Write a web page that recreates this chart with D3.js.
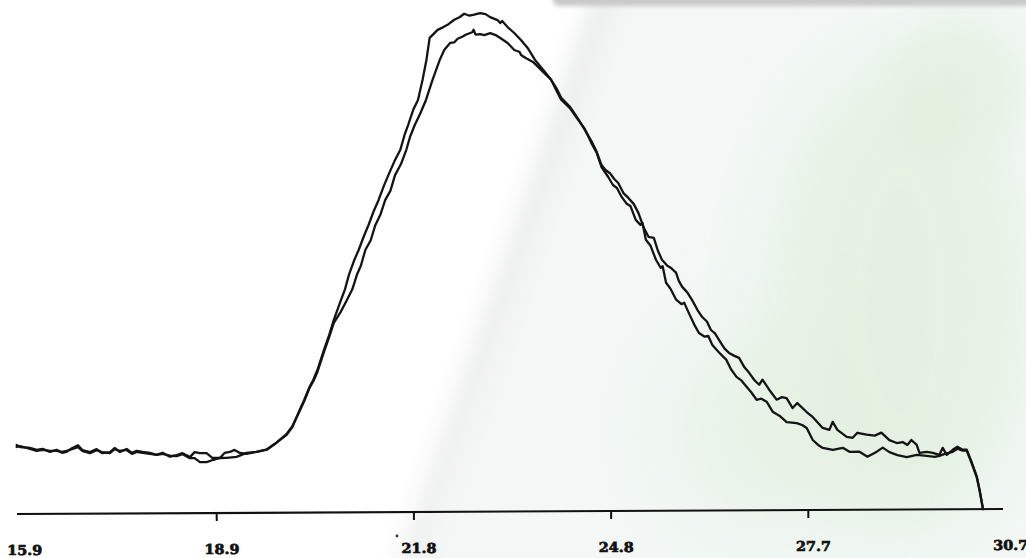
<!DOCTYPE html>
<html>
<head>
<meta charset="utf-8">
<script src="https://cdn.jsdelivr.net/npm/d3@7"></script>
<style>
  html, body { margin: 0; padding: 0; background: #ffffff; }
  svg { display: block; }
</style>
</head>
<body>
<svg id="chart" width="1026" height="558"></svg>
<script>
// ---- data (retention time, relative intensity) ----
const tickValues = [15.9, 18.86, 21.82, 24.78, 27.74, 30.7];
const tickLabels = ["15.9", "18.9", "21.8", "24.8", "27.7", "30.7"];

const timeA = [15.87,15.92,16.07,16.17,16.26,16.37,16.47,16.55,16.62,16.70,16.79,16.86,16.97,17.07,17.15,17.27,17.34,17.42,17.52,17.60,17.67,17.76,17.87,17.97,18.06,18.17,18.27,18.36,18.47,18.54,18.62,18.72,18.81,18.92,18.99,19.07,19.14,19.22,19.32,19.47,19.62,19.77,19.92,20.01,
  20.12,20.19,20.27,20.33,20.39,20.49,20.57,20.64,
  20.75,20.81,20.87,20.95,21.02,21.10,21.17,21.25,21.32,21.40,21.47,21.56,21.65,21.72,21.77,21.85,21.92,21.99,22.05,22.10,22.16,22.22,22.30,22.37,22.47,22.55,22.62,22.70,22.77,22.86,22.94,23.01,23.12,23.16,23.19,23.27,23.37,23.47,23.57,23.68,23.80,23.92,24.00,24.07,24.20,24.32,24.42,24.52,24.60,24.67,
  24.77,24.84,24.90,24.97,25.04,25.10,25.18,25.25,25.28,25.33,25.40,25.48,25.55,25.58,25.63,25.70,25.78,25.86,25.90,25.97,26.05,26.12,26.20,26.26,26.32,26.42,26.53,26.60,26.68,26.75,26.83,26.90,26.98,27.05,27.13,27.22,27.32,27.43,27.58,27.66,27.73,27.82,27.90,27.97,28.12,28.27,28.37,28.52,28.64,28.78,28.87,28.97,29.09,29.23,29.38,29.53,29.65,29.72,29.80,29.92,29.99,30.07,30.13,30.20,30.28,30.32,30.37];
const valueA = [13.8,13.4,13.2,12.8,13.0,12.4,12.8,12.2,12.4,13.1,13.7,12.7,12.3,12.9,12.1,12.3,13.1,12.3,12.9,12.1,12.5,12.3,12.1,11.7,12.1,11.3,11.6,12.0,11.2,12.2,12.0,12.0,11.0,11.0,12.0,12.2,12.6,12.0,11.8,12.2,12.6,14.0,15.5,17.1,
  20.5,22.5,25.1,26.6,28.5,32.5,35.5,38.5,
  42.5,44.6,47.5,50.4,52.5,55.3,57.5,60.3,62.4,65.2,67.4,70.1,72.4,75.6,77.4,80.5,82.4,86.4,90.4,94.8,95.6,96.4,96.9,97.4,98.4,98.9,99.6,99.2,99.4,99.7,99.5,98.9,98.3,97.7,98.1,96.9,95.7,94.3,92.7,90.3,88.3,86.3,84.1,82.3,80.6,78.3,76.5,73.6,71.6,68.8,
  66.8,65.2,64.6,62.8,61.5,61.0,58.2,57.2,57.6,54.2,53.0,50.2,48.6,48.9,45.6,44.3,42.2,41.3,41.6,39.5,37.2,35.5,34.8,34.9,33.1,31.6,30.1,28.2,26.7,26.0,24.7,23.6,22.1,22.3,21.7,19.7,18.9,17.6,17.4,17.0,16.4,14.0,13.0,12.4,12.0,12.4,11.6,11.6,10.6,11.6,12.4,11.5,10.9,10.5,10.9,10.7,10.5,10.7,11.1,11.5,12.1,11.7,11.7,9.3,6.3,3.7,0];

const timeB = [15.87,15.92,16.07,16.17,16.26,16.37,16.47,16.55,16.62,16.70,16.79,16.86,16.97,17.07,17.15,17.27,17.34,17.42,17.52,17.60,17.67,17.76,17.87,17.97,18.06,18.17,18.27,18.36,18.47,18.54,18.62,18.72,18.81,18.92,19.02,19.17,19.32,19.47,19.62,19.77,19.92,20.01,
  20.12,20.19,20.27,20.33,20.39,20.49,20.57,20.64,
  20.74,20.84,20.92,20.99,21.05,21.12,21.20,21.27,21.35,21.42,21.50,21.57,21.66,21.74,21.80,21.87,21.95,22.04,22.14,22.25,22.32,22.41,22.47,22.52,22.59,22.64,22.74,22.76,22.79,22.86,22.92,23.01,23.09,23.16,23.27,23.37,23.45,23.47,23.54,23.65,23.80,23.92,24.00,24.07,24.20,24.32,24.42,24.52,24.60,24.67,
  24.73,24.80,24.86,24.92,25.00,25.07,25.15,25.22,25.30,25.37,25.45,25.51,25.57,25.65,25.70,25.78,25.82,25.87,25.95,26.02,26.10,26.17,26.24,26.30,26.36,26.42,26.50,26.57,26.65,26.72,26.80,26.87,26.95,27.02,27.07,27.17,27.28,27.36,27.43,27.52,27.59,27.73,27.82,27.97,28.07,28.12,28.19,28.33,28.42,28.49,28.63,28.75,28.85,28.97,29.08,29.17,29.24,29.30,29.38,29.42,29.53,29.62,29.72,29.77,29.83,29.92,29.99,30.07,30.13,30.20,30.28,30.32,30.37];
const valueB = [13.4,13.6,13.0,12.6,12.8,12.6,12.6,12.4,12.6,12.9,13.3,12.5,12.1,12.7,12.3,12.1,12.9,12.5,12.7,11.9,12.3,12.1,11.9,11.7,11.9,11.5,11.4,11.8,11.0,11.0,10.2,10.2,10.6,11.0,11.0,11.2,12.0,12.2,12.6,14.0,15.7,17.3,
  20.3,22.3,24.9,26.3,28.1,32.1,35.1,37.9,
  40.0,42.5,44.6,47.5,49.3,52.5,54.4,57.4,59.6,62.4,64.3,67.4,69.6,72.4,75.1,77.4,79.6,82.4,86.4,90.4,92.4,93.8,93.9,94.6,95.0,95.4,95.9,96.4,95.4,95.5,95.3,95.7,95.3,94.7,93.7,92.3,91.9,91.3,90.7,89.9,87.9,86.3,84.6,82.7,80.9,78.5,76.3,74.0,71.8,69.2,
  68.2,67.5,66.4,65.6,63.5,62.6,61.4,59.6,56.6,54.8,54.6,52.0,50.2,49.0,48.6,47.6,46.0,44.8,43.6,42.1,40.1,38.7,37.8,36.1,35.4,34.1,32.4,31.5,30.9,30.5,28.6,27.5,26.0,25.1,26.1,24.1,22.1,22.6,22.4,20.4,21.4,19.6,18.6,16.4,16.0,17.6,16.0,14.6,14.4,15.4,15.0,14.8,15.4,13.9,13.3,13.5,12.9,13.9,12.9,11.3,11.5,11.3,10.9,12.3,10.9,11.9,12.5,11.9,11.9,9.5,6.5,3.9,0];

const seriesA = timeA.map((t, i) => ({ t, v: valueA[i] }));
const seriesB = timeB.map((t, i) => ({ t, v: valueB[i] }));

// ---- drawing ----
const W = 1026, H = 558;
const svg = d3.select("#chart");
const defs = svg.append("defs");

const blur = (id, s) => defs.append("filter").attr("id", id)
  .attr("x", "-50%").attr("y", "-50%").attr("width", "200%").attr("height", "200%")
  .append("feGaussianBlur").attr("stdDeviation", s);
blur("b2", 2); blur("b12", 12); blur("b20", 20); blur("b40", 40);

// background: paper with a fold shadow and faint green tint
const bg = svg.append("g");
bg.append("rect").attr("width", W).attr("height", H).attr("fill", "#ffffff");
bg.append("polygon")
  .attr("points", "606,-20 1060,-20 1060,600 406,600")
  .attr("fill", "#f3f8f6").attr("filter", "url(#b12)");
bg.append("ellipse").attr("cx", 900).attr("cy", 300).attr("rx", 130).attr("ry", 240)
  .attr("fill", "#d9ebd2").attr("opacity", 0.55).attr("filter", "url(#b40)");
bg.append("ellipse").attr("cx", 760).attr("cy", 430).attr("rx", 100).attr("ry", 110)
  .attr("fill", "#e0eedb").attr("opacity", 0.5).attr("filter", "url(#b40)");
bg.append("ellipse").attr("cx", 960).attr("cy", 80).attr("rx", 70).attr("ry", 70)
  .attr("fill", "#dcecd6").attr("opacity", 0.45).attr("filter", "url(#b20)");
bg.append("line").attr("x1", 606).attr("y1", -10).attr("x2", 406).attr("y2", 570)
  .attr("stroke", "#c8c8c8").attr("stroke-width", 16).attr("opacity", 0.4)
  .attr("filter", "url(#b12)");
bg.append("rect").attr("x", 553).attr("y", -12).attr("width", 520).attr("height", 18).attr("rx", 6)
  .attr("fill", "#c9c9c9").attr("filter", "url(#b2)");
bg.append("circle").attr("cx", 397).attr("cy", 536).attr("r", 1.4).attr("fill", "#333");

// chart group (scan is tilted slightly)
const g = svg.append("g").attr("transform", "rotate(-0.29, 19, 514)");

const x = d3.scaleLinear().domain([15.9, 30.7]).range([19, 1005]);
const y = d3.scaleLinear().domain([0, 100]).range([514, 14]);

const axis = d3.axisBottom(x)
  .tickValues(tickValues)
  .tickSize(8)
  .tickSizeOuter(0)
  .tickFormat((d, i) => tickLabels[i]);

const ax = g.append("g").attr("transform", "translate(0,514)").call(axis);
ax.select(".domain").attr("stroke", "#111").attr("stroke-width", 2.2)
  .attr("d", "M17,0H1003");
ax.selectAll(".tick line").attr("stroke", "#111").attr("stroke-width", 2)
  .attr("opacity", (d, i) => (i === 0 || i === tickValues.length - 1) ? 0 : 1);
ax.selectAll(".tick text")
  .attr("y", 41).attr("dy", 0).attr("dx", 5)
  .attr("fill", "#111")
  .attr("font-family", "'DejaVu Serif', 'Liberation Serif', serif")
  .attr("font-weight", "bold")
  .attr("font-size", 13.5)
  .attr("textLength", 35)
  .attr("lengthAdjust", "spacingAndGlyphs")
  .attr("stroke", "#111").attr("stroke-width", 0.7);

const line = d3.line().x(d => x(d.t)).y(d => y(d.v)).curve(d3.curveLinear);

[seriesA, seriesB].forEach(s => {
  g.append("path").datum(s)
    .attr("d", line)
    .attr("fill", "none")
    .attr("stroke", "#141414")
    .attr("stroke-width", 2.3)
    .attr("stroke-linejoin", "round")
    .attr("stroke-linecap", "round");
});
</script>
</body>
</html>
